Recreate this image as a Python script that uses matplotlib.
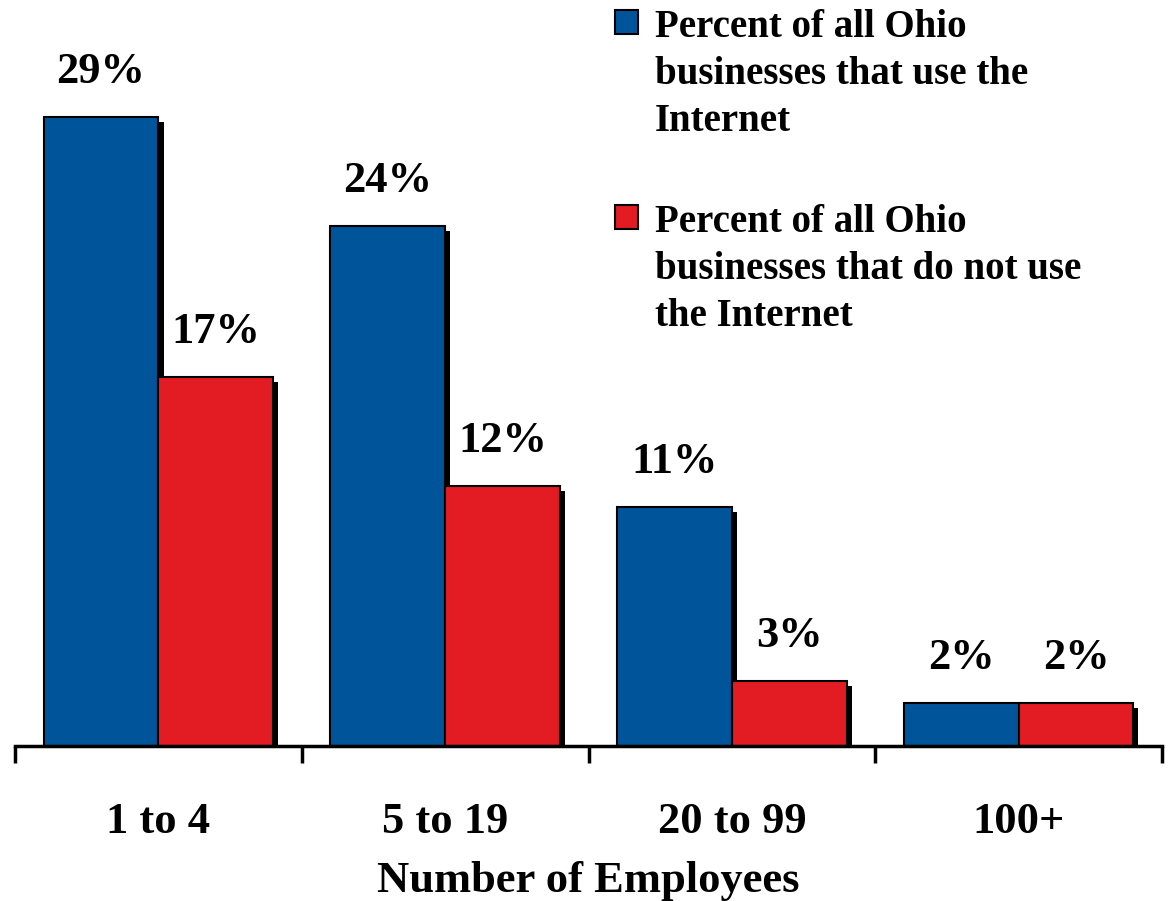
import matplotlib.pyplot as plt
import numpy as np
from matplotlib.patches import Rectangle

categories = ['1 to 4', '5 to 19', '20 to 99', '100+']
use_internet = [29, 24, 11, 2]
no_internet = [17, 12, 3, 2]
legend_labels = ['Percent of all Ohio\nbusinesses that use the\nInternet',
                 'Percent of all Ohio\nbusinesses that do not use\nthe Internet']

blue = '#00559A'
red = '#E31B23'

plt.rcParams['font.family'] = ['Liberation Serif', 'DejaVu Serif']
plt.rcParams['font.weight'] = 'bold'

fig = plt.figure(figsize=(11.71, 9.01), dpi=100)
ax = fig.add_axes([15/1171, 155/901, 1147/1171, 746/901])

x = np.arange(len(categories))
w = 0.4
# shadow offset (~5px)
dx = 0.018
dy = 0.23

for vals, off, col in [(use_internet, -w/2, blue), (no_internet, w/2, red)]:
    vals = np.array(vals)
    ax.bar(x + off + dx, vals - dy, w, color='black', zorder=1)
    ax.bar(x + off, vals, w, color=col, edgecolor='black', linewidth=1.5, zorder=2)
    for xi, v in zip(x + off, vals):
        ax.annotate(f'{v}%', (xi, v), xytext=(0, 18), textcoords='offset points',
                    ha='center', va='bottom', fontsize=32, fontweight='bold')

ax.set_xlim(-0.5, len(categories) - 0.5)
ax.set_ylim(0, 34.4)
for s in ['top', 'right', 'left']:
    ax.spines[s].set_visible(False)
ax.spines['bottom'].set_linewidth(2.5)
ax.spines['bottom'].set_zorder(3)
ax.set_yticks([])
ax.set_xticks(np.arange(len(categories) + 1) - 0.5)
ax.set_xticklabels([])
ax.tick_params(axis='x', which='major', length=12, width=2.5, direction='out')
ax.set_xticks(x, minor=True)
ax.set_xticklabels(categories, minor=True, fontsize=32, fontweight='bold')
ax.tick_params(axis='x', which='minor', length=0, pad=40)
ax.set_xlabel('Number of Employees', fontsize=32, fontweight='bold', labelpad=14)

# legend
for i, (lab, col) in enumerate(zip(legend_labels, [blue, red])):
    ytop = 10 + i * 195
    fig.patches.append(Rectangle((615/1171, 1 - (ytop + 24)/901), 23/1171, 24/901,
                                 transform=fig.transFigure, facecolor=col,
                                 edgecolor='black', linewidth=1.5))
    fig.text(655/1171, 1 - (ytop - 1)/901, lab, ha='left', va='top',
             fontsize=28, fontweight='bold', linespacing=1.35)

plt.savefig('out.png')
